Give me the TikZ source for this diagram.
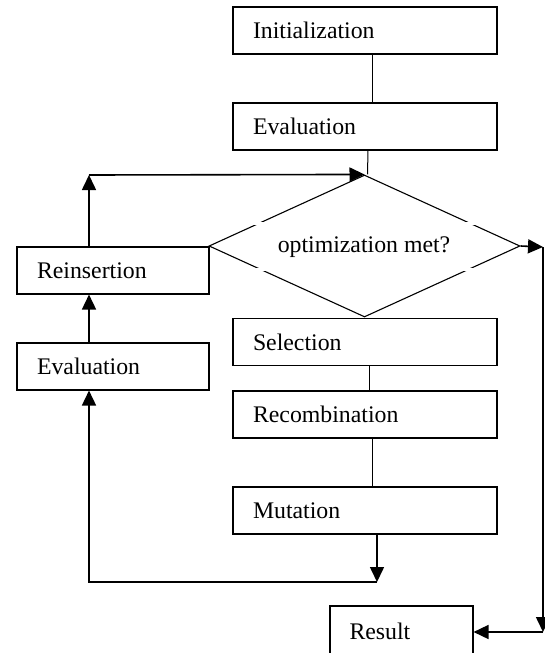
\documentclass[tikz,border=0pt]{standalone}
\usepackage{fontspec}
\setmainfont{Liberation Serif}
\usetikzlibrary{arrows.meta,shapes.geometric}
\begin{document}
\begin{tikzpicture}[x=1pt,y=-1pt,
  wide/.style={draw,line width=1.1pt,minimum width=264pt,minimum height=47pt,text width=224pt,inner xsep=20pt,inner ysep=0pt,align=left,font=\fontsize{23.8}{26}\selectfont},
  narrow/.style={wide,minimum width=192pt,text width=152pt},
  res/.style={wide,minimum width=143pt,minimum height=50pt,text width=104pt,inner xsep=19.5pt},
  decision/.style={draw,shape=diamond,line width=1.1pt,inner sep=0pt,minimum width=311pt,minimum height=142pt,font=\fontsize{23.8}{26}\selectfont},
  arr/.style={line width=1.6pt,-{Triangle[length=15pt,width=14pt]}},
  plain/.style={line width=1pt}]
\clip (0,0) rectangle (545,653);
\fill[white] (0,0) rectangle (545,653);

\node[wide] (init) at (365,30.5) {Initialization};
\node[wide] (eval1) at (365,126.5) {Evaluation};
\node[decision] (dia) at (364.5,246) {};
\node[wide] (sel) at (365,342) {Selection};
\node[wide] (rec) at (365,414.5) {Recombination};
\node[wide] (mut) at (365,510.5) {Mutation};
\node[narrow] (reins) at (113,270.5) {Reinsertion};
\node[narrow] (eval2) at (113,366.5) {Evaluation};
\node[res] (result) at (401.5,631) {Result};

% small gaps in the diamond outline
\draw[white,line width=3pt] (250,223) -- (480,223);
\draw[white,line width=3pt] (250,269) -- (480,269);
\node[font=\fontsize{23.8}{26}\selectfont] (dtext) at (364,247) {optimization met?};

\coordinate (loopTL) at (89,175);
\coordinate (loopBL) at (89,582);
\coordinate (mutB) at (377,582);
\coordinate (rT) at (543,247);
\coordinate (rB) at (543,632);

\draw[plain] ([xshift=7pt]init.south) -- ([xshift=7pt]eval1.north);
\draw[plain] ([xshift=3pt]eval1.south) -- ([xshift=3pt]dia.north);
\draw[plain] ([xshift=4pt]sel.south) -- ([xshift=4pt]rec.north);
\draw[plain] ([xshift=7pt]rec.south) -- ([xshift=7pt]mut.north);

\draw[arr] ([xshift=-24pt]reins.north) -- (loopTL);
\draw[arr] (loopTL) -- (dia.north);
\draw[arr] ([xshift=-24pt]eval2.north) -- ([xshift=-24pt]reins.south);
\draw[arr] ([xshift=12pt]mut.south) -- (mutB);
\draw[arr] (mutB) -- (loopBL) -- ([xshift=-24pt]eval2.south);
\draw[arr] (dia.east) -- (rT);
\draw[arr] (rT) -- (rB);
\draw[arr] (rB) -- (rB -| result.east);
\end{tikzpicture}
\end{document}
